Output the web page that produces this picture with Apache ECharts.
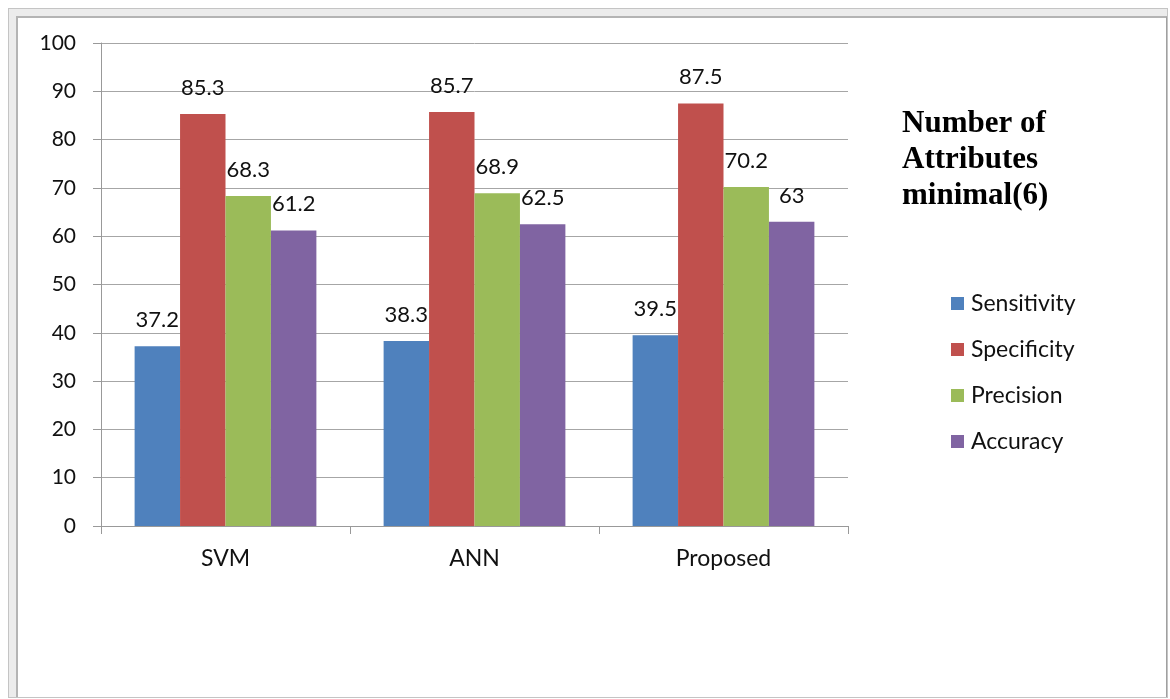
<!DOCTYPE html>
<html>
<head>
<meta charset="utf-8">
<script src="https://cdn.jsdelivr.net/npm/echarts@6/dist/echarts.min.js"></script>
<style>
  html, body { margin: 0; padding: 0; background: #fff; }
  /* window-like frame around the chart */
  .frame-outer {
    position: absolute; left: 8px; top: 8px; width: 1158px; height: 688px;
    border: 1px solid #c4c4c4; background: #ececec;
  }
  .frame-inner {
    position: absolute; left: 16px; top: 16px; width: 1148px; height: 679px;
    background: #fff; border-left: 2px solid #b4b4b4; border-top: 2px solid #b4b4b4;
    border-right: 1px solid #a0a0a0;
  }
  #chart { position: absolute; left: 0; top: 0; width: 1170px; height: 699px; }
</style>
</head>
<body>
<div class="frame-outer"></div>
<div class="frame-inner"></div>
<div id="chart"></div>
<script>
// 数据
const categories = ['SVM', 'ANN', 'Proposed'];
const sensitivity = [37.2, 38.3, 39.5];
const specificity = [85.3, 85.7, 87.5];
const precision = [68.3, 68.9, 70.2];
const accuracy = [61.2, 62.5, 63];

const font = 'Lato, "Open Sans", sans-serif';

function makeSeries(name, data, color) {
  return {
    name: name,
    type: 'bar',
    data: data,
    barGap: 0,
    barCategoryGap: '27%',
    itemStyle: { color: color },
    label: {
      show: true,
      position: 'top',
      distance: 15,
      color: '#111',
      fontFamily: font,
      fontSize: 22
    }
  };
}

const chart = echarts.init(document.getElementById('chart'));
chart.setOption({
  animation: false,
  backgroundColor: 'transparent',
  title: {
    text: 'Number of\nAttributes\nminimal(6)',
    left: 902,
    top: 106,
    padding: 0,
    textStyle: {
      fontFamily: '"Liberation Serif", serif',
      fontWeight: 'bold',
      fontSize: 31,
      lineHeight: 36,
      color: '#000'
    }
  },
  legend: {
    orient: 'vertical',
    left: 951,
    top: 292,
    padding: 0,
    icon: 'rect',
    itemWidth: 13,
    itemHeight: 13,
    itemGap: 23,
    textStyle: { fontFamily: font, fontSize: 23, lineHeight: 22, color: '#111', padding: [0, 0, 0, 2] },
    data: ['Sensitivity', 'Specificity', 'Precision', 'Accuracy']
  },
  grid: { left: 101, right: 322, top: 43, bottom: 173 },
  xAxis: {
    type: 'category',
    data: categories,
    axisLine: { lineStyle: { color: '#999', width: 1 } },
    axisTick: { show: true, length: 8, interval: 0, lineStyle: { color: '#999' } },
    axisLabel: { margin: 21, color: '#111', fontFamily: font, fontSize: 23 }
  },
  yAxis: {
    type: 'value',
    min: 0,
    max: 100,
    interval: 10,
    axisLine: { show: true, lineStyle: { color: '#999', width: 1 } },
    axisTick: { show: true, length: 8, lineStyle: { color: '#999' } },
    axisLabel: { margin: 25, color: '#111', fontFamily: font, fontSize: 21 },
    splitLine: { lineStyle: { color: '#a6a6a6', width: 1 } }
  },
  series: [
    makeSeries('Sensitivity', sensitivity, '#4F81BD'),
    makeSeries('Specificity', specificity, '#C0504D'),
    makeSeries('Precision', precision, '#9BBB59'),
    makeSeries('Accuracy', accuracy, '#8064A2')
  ]
});
</script>
</body>
</html>
